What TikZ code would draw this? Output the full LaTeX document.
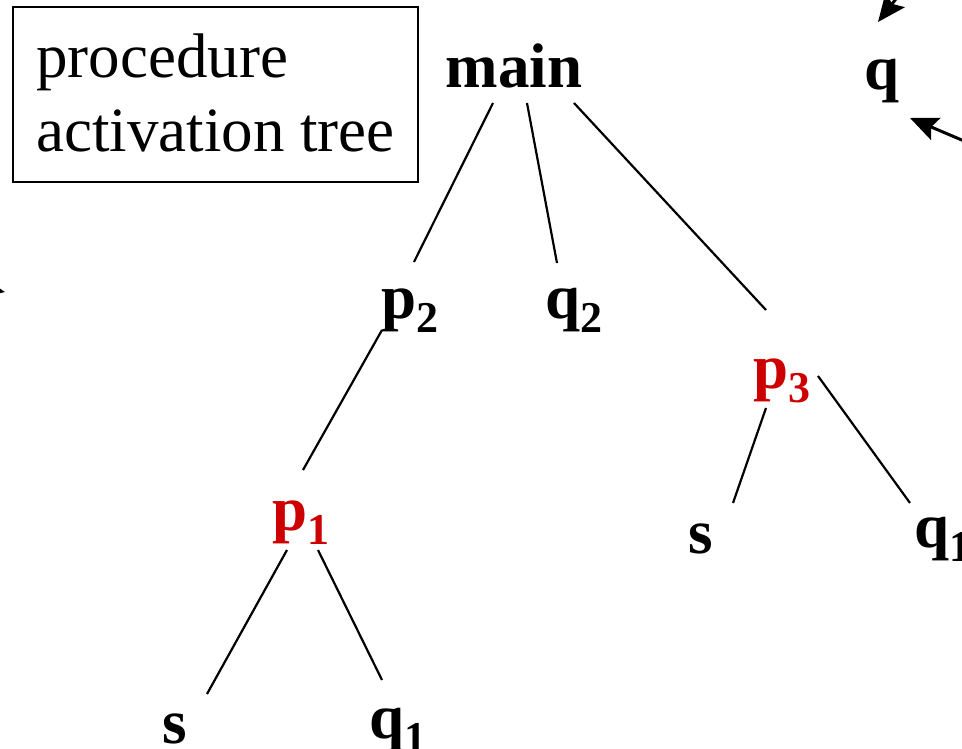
\documentclass[tikz,border=0pt]{standalone}
\usepackage{fontspec}
\setmainfont{Liberation Serif}
\usetikzlibrary{arrows.meta}
\definecolor{actred}{RGB}{204,0,0}
% letter with a lowered index
\newcommand{\idx}[2]{#1{\fontsize{44}{44}\selectfont\raisebox{-14pt}{#2}}}

\begin{document}
\begin{tikzpicture}[x=1pt,y=-1pt,line width=2.2pt,
    font=\bfseries\fontsize{63}{70}\selectfont,
    lbl/.style={anchor=base,inner sep=0pt},
    act/.style={lbl,text=actred},
    call/.style={line width=3pt,-{Stealth[length=28pt,width=24pt,inset=5pt]}}]
  \useasboundingbox (0,0) rectangle (962,749);
  \clip (0,0) rectangle (962,749);

  % legend box
  \draw[line width=1.3pt] (13,7) rectangle (418,182);
  \node[lbl,anchor=base west,font=\mdseries\fontsize{63}{70}\selectfont] (proc) at (35,78) {procedure};
  \node[lbl,anchor=base west,font=\mdseries\fontsize{63}{70}\selectfont] (actv) at (35,152) {activation tree};

  % tree nodes
  \node[lbl] (main) at (514,88) {main};
  \node[lbl] (p2) at (410,318) {\idx{p}{2}};
  \node[lbl] (q2) at (574,318) {\idx{q}{2}};
  \node[act] (p3) at (782,388) {\idx{p}{3}};
  \node[act] (p1) at (301,530) {\idx{p}{1}};
  \node[lbl] (sr) at (701,553) {s};
  \node[lbl] (q1r) at (943,547) {\idx{q}{1}};
  \node[lbl] (sl) at (175,743) {s};
  \node[lbl] (q1l) at (398,738) {\idx{q}{1}};
  \node[lbl] (q) at (882,90) {q};

  % tree edges
  \draw ([shift={(-21,15)}]main.base) -- ([shift={(4,-56)}]p2.base);
  \draw ([shift={(13,15)}]main.base) -- ([shift={(-17,-55)}]q2.base);
  \draw ([shift={(60,15)}]main.base) -- ([shift={(-16,-78)}]p3.base);
  \draw ([shift={(-28,12)}]p2.base) -- ([shift={(2,-60)}]p1.base);
  \draw ([shift={(-16,20)}]p3.base) -- ([shift={(32,-50)}]sr.base);
  \draw ([shift={(36,-12)}]p3.base) -- ([shift={(-33,-44)}]q1r.base);
  \draw ([shift={(-14,20)}]p1.base) -- ([shift={(32,-49)}]sl.base);
  \draw ([shift={(17,20)}]p1.base) -- ([shift={(-16,-58)}]q1l.base);

  % calls coming in from outside
  \coordinate (callA) at (906,-14);
  \coordinate (callB) at (990,152);
  \coordinate (callC) at (-60,280);
  \coordinate (endC) at (5,292);
  \draw[call] (callA) -- ([shift={(-4,-68)}]q.base);
  \draw[call] (callB) -- ([shift={(28,28)}]q.base);
  \draw[call] (callC) -- (endC);
\end{tikzpicture}
\end{document}
